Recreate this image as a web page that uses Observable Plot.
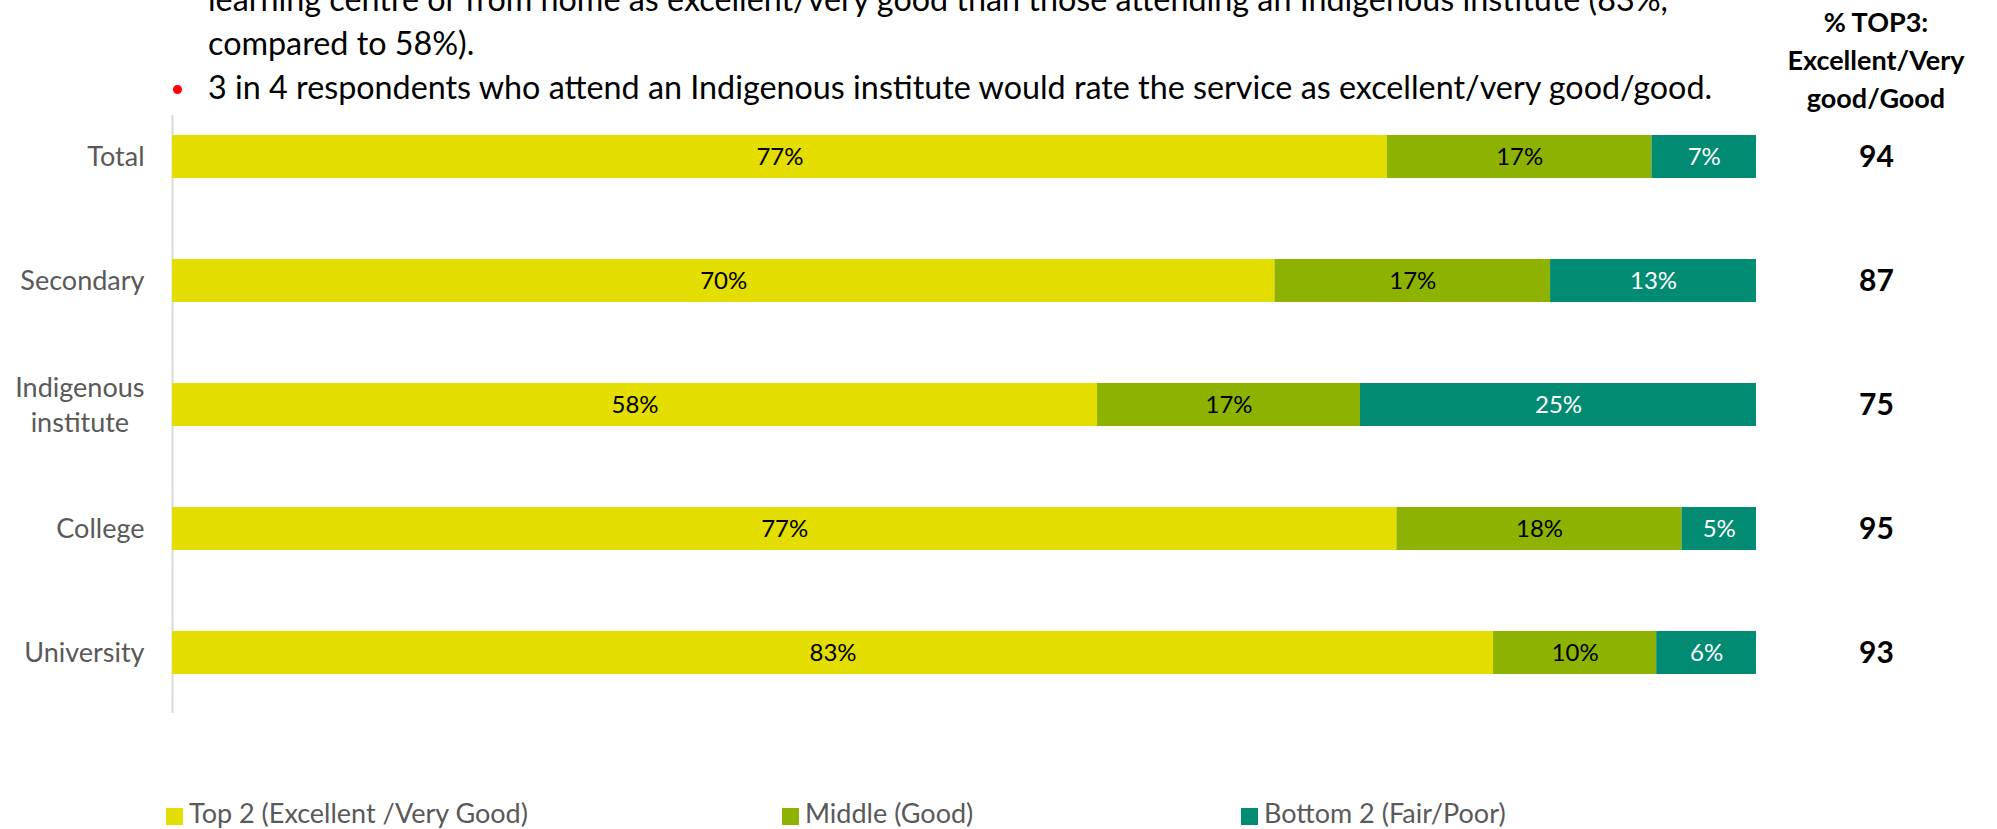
<!DOCTYPE html>
<html>
<head>
<meta charset="utf-8">
<script src="https://cdn.jsdelivr.net/npm/d3@7"></script>
<script src="https://cdn.jsdelivr.net/npm/@observablehq/plot@0.6"></script>
<style>
  html, body { margin: 0; padding: 0; background: #fff; }
  body { width: 1997px; height: 829px; overflow: hidden; position: relative; font-family: Lato, "Open Sans", sans-serif; }
  #chart { position: absolute; left: 0; top: 0; }
  .bullets { position: absolute; left: 208px; top: -23px; font-size: 32.3px; line-height: 44px; color: #000; white-space: nowrap; }
  .dot { position: absolute; left: 173px; top: 85px; width: 9px; height: 9px; border-radius: 50%; background: #ff0000; }
  .header { position: absolute; left: 1776px; width: 200px; top: 3px; text-align: center; font-weight: bold; font-size: 27px; line-height: 38px; color: #000; }
  .lg-sq { position: absolute; width: 17px; height: 17px; top: 808px; }
  .lg-tx { position: absolute; top: 797px; font-size: 27px; line-height: 32px; color: #595959; white-space: nowrap; }
</style>
</head>
<body>
<div id="chart"></div>
<div class="bullets" id="bullets"></div>
<div class="dot"></div>
<div class="header" id="header"></div>
<div id="legend"></div>
<script>
// ---- data ----
const categories = ["Total", "Secondary", "Indigenous institute", "College", "University"];
const categoryLabels = ["Total", "Secondary", "Indigenous\ninstitute", "College", "University"];
const seriesNames = ["Top 2 (Excellent /Very Good)", "Middle (Good)", "Bottom 2 (Fair/Poor)"];
const seriesColors = ["#E4DE00", "#8DB300", "#008B72"];
const top2 = [76.7, 69.6, 58.4, 77.3, 83.4];
const middle = [16.7, 17.4, 16.6, 18.0, 10.3];
const bottom2 = [6.6, 13.0, 25.0, 4.7, 6.3];
const top3 = [94, 87, 75, 95, 93];
const headerLines = ["% TOP3:", "Excellent/Very", "good/Good"];
const bulletLines = [
  "learning centre or from home as excellent/very good than those attending an Indigenous institute (83%,",
  "compared to 58%).",
  "3 in 4 respondents who attend an Indigenous institute would rate the service as excellent/very good/good."
];

// ---- build table ----
const seriesValues = [top2, middle, bottom2];
const rows = [];
categories.forEach((c, i) => {
  seriesNames.forEach((s, j) => rows.push({category: c, series: s, value: seriesValues[j][i]}));
});
const top3Rows = categories.map((c, i) => ({category: c, value: top3[i]}));
const labelOf = new Map(categories.map((c, i) => [c, categoryLabels[i]]));
const pct = d => Math.round(d.value) + "%";

const plot = Plot.plot({
  width: 1997,
  height: 829,
  marginTop: 115,
  marginBottom: 116,
  marginLeft: 172,
  marginRight: 241,
  style: {fontFamily: "Lato, 'Open Sans', sans-serif", background: "white"},
  x: {domain: [0, 100], axis: null},
  y: {domain: categories, paddingInner: 0.65, paddingOuter: 0.236, align: 0.34, label: null},
  color: {domain: seriesNames, range: seriesColors},
  marks: [
    Plot.ruleX([0], {stroke: "#D9D9D9", strokeWidth: 2}),
    Plot.barX(rows, {x: "value", y: "category", fill: "series", z: "series"}),
    Plot.text(rows, Plot.stackX({
      x: "value", y: "category", z: "series",
      text: d => d.series === seriesNames[2] ? "" : pct(d),
      fill: "#000", fontSize: 24
    })),
    Plot.text(rows, Plot.stackX({
      x: "value", y: "category", z: "series",
      text: d => d.series === seriesNames[2] ? pct(d) : "",
      fill: "#fff", fontSize: 24
    })),
    Plot.text(top3Rows, {
      y: "category", text: d => String(d.value), frameAnchor: "right", textAnchor: "middle", dx: 120,
      fontWeight: "bold", fontSize: 30, fill: "#000"
    }),
    Plot.axisY({
      tickSize: 0, tickPadding: 28, fontSize: 27, color: "#595959", lineHeight: 1.3, dy: -2,
      tickFormat: d => labelOf.get(d), label: null
    })
  ]
});
document.getElementById("chart").appendChild(plot);

// centre the lines of multi-line category labels within their block
plot.querySelectorAll('g[aria-label="y-axis tick label"] text').forEach(t => {
  const spans = t.querySelectorAll("tspan");
  if (spans.length > 1) {
    const w = Math.max(...[...spans].map(s => s.getComputedTextLength()));
    t.setAttribute("text-anchor", "middle");
    spans.forEach(s => s.setAttribute("x", -w / 2));
  }
});

// bullets and header
document.getElementById("bullets").innerHTML = bulletLines.map(l => `<div>${l}</div>`).join("");
document.getElementById("header").innerHTML = headerLines.map(l => `<div>${l}</div>`).join("");

// legend
const legendX = [166, 782, 1241];
const legend = document.getElementById("legend");
seriesNames.forEach((s, i) => {
  const sq = document.createElement("div");
  sq.className = "lg-sq";
  sq.style.left = legendX[i] + "px";
  sq.style.background = seriesColors[i];
  legend.appendChild(sq);
  const tx = document.createElement("div");
  tx.className = "lg-tx";
  tx.style.left = (legendX[i] + 23) + "px";
  tx.textContent = s;
  legend.appendChild(tx);
});
</script>
</body>
</html>
